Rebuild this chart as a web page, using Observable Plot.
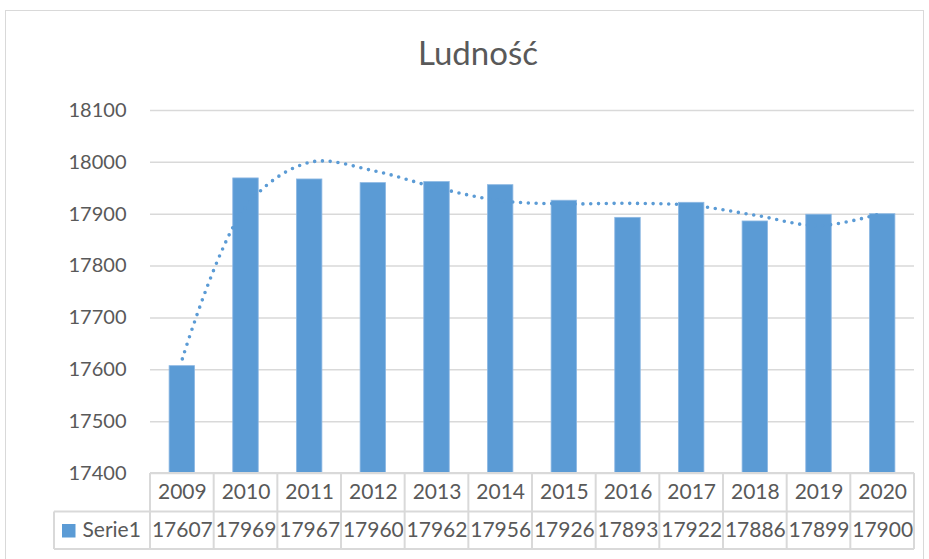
<!DOCTYPE html>
<html>
<head>
<meta charset="utf-8">
<script src="https://cdn.jsdelivr.net/npm/d3@7"></script>
<script src="https://cdn.jsdelivr.net/npm/@observablehq/plot@0.6"></script>
<style>
  html, body { margin: 0; padding: 0; background: #fff; }
  #wrap { position: relative; width: 929px; height: 559px; overflow: hidden; font-family: Lato, "Open Sans", sans-serif; }
  #frame { position: absolute; left: 5px; top: 10px; width: 919px; height: 600px; border: 1.5px solid #d9d9d9; box-sizing: border-box; pointer-events: none; }
  #title { position: absolute; left: 0; top: 36px; width: 956px; text-align: center; font-size: 33px; line-height: 33px; color: #595959; }
  #chart { position: absolute; left: 0; top: 80px; }
</style>
</head>
<body>
<div id="wrap">
  <div id="frame"></div>
  <div id="title">Ludność</div>
  <div id="chart"></div>
</div>
<script>
const years = ["2009","2010","2011","2012","2013","2014","2015","2016","2017","2018","2019","2020"];
const values = [17607,17969,17967,17960,17962,17956,17926,17893,17922,17886,17899,17900];
// dotted trendline, values at each year
const trend = [17621,17915,18000,17984,17951,17926,17920,17921,17917,17898,17878,17902];
const yTicks = [17400,17500,17600,17700,17800,17900,18000,18100];
const seriesName = "Serie1";

const data = years.map((y, i) => ({year: y, value: values[i], trend: trend[i]}));
const blue = "#5B9BD5";
const grid = "#d9d9d9";
const textCol = "#595959";

const plot = Plot.plot({
  width: 929,
  height: 479,
  marginLeft: 150,
  marginRight: 15,
  marginTop: 30,
  marginBottom: 86,
  style: {fontFamily: "Lato, 'Open Sans', sans-serif", fontSize: "20px", color: textCol, background: "transparent", overflow: "visible"},
  x: {domain: years, paddingInner: 0.6, paddingOuter: 0.3, round: false, axis: null},
  y: {domain: [17400, 18100], ticks: yTicks, tickSize: 0, tickPadding: 24, tickFormat: d => String(d), label: null},
  marks: [
    Plot.ruleY(yTicks, {stroke: grid, strokeWidth: 1.5}),
    Plot.barY(data, {x: "year", y1: 17400, y2: "value", fill: blue, stroke: "#8db8e3", strokeWidth: 0.8}),
    Plot.line(data, {x: "year", y: "trend", curve: "catmull-rom", stroke: blue, strokeWidth: 3.6, strokeDasharray: "0 7.8", strokeLinecap: "round"}),
    Plot.text(data, {x: "year", text: "year", frameAnchor: "bottom", dy: 25, fontSize: 21, fill: textCol}),
    Plot.text(data, {x: "year", text: d => String(d.value), frameAnchor: "bottom", dy: 63, fontSize: 21, fill: textCol}),
    Plot.text([seriesName], {text: d => d, frameAnchor: "bottom-left", dx: -68, dy: 63, textAnchor: "start", fontSize: 21, fill: textCol})
  ]
});
document.getElementById("chart").appendChild(plot);

// data table grid + legend swatch, positioned from Plot's x scale
const xs = plot.scale("x");
const step = (xs.range[1] - xs.range[0]) / (years.length - xs.paddingInner + 2 * xs.paddingOuter);
const bw = xs.bandwidth;
const bounds = years.map(y => xs.apply(y) - (step - bw) / 2);
bounds.push(bounds[bounds.length - 1] + step);
const svg = d3.select(plot);
const yBase = 393, yMid = 431.5, yBot = 469, xLeft = 54;
const g = svg.append("g").attr("stroke", grid).attr("stroke-width", 2).attr("fill", "none");
g.append("line").attr("x1", bounds[0]).attr("x2", bounds[bounds.length-1]).attr("y1", yBase).attr("y2", yBase);
g.append("line").attr("x1", xLeft).attr("x2", bounds[bounds.length-1]).attr("y1", yMid).attr("y2", yMid);
g.append("line").attr("x1", xLeft).attr("x2", bounds[bounds.length-1]).attr("y1", yBot).attr("y2", yBot);
g.append("line").attr("x1", xLeft).attr("x2", xLeft).attr("y1", yMid).attr("y2", yBot);
bounds.forEach(b => g.append("line").attr("x1", b).attr("x2", b).attr("y1", yBase).attr("y2", yBot));
svg.append("rect").attr("x", 62).attr("y", 444).attr("width", 13.5).attr("height", 13.5).attr("fill", blue);
</script>
</body>
</html>
